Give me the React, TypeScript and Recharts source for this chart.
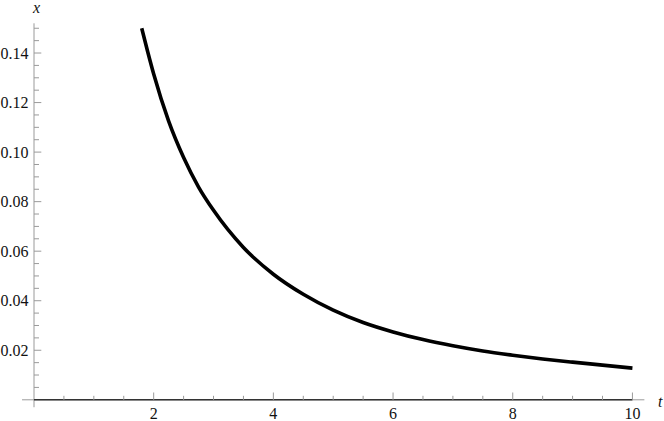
import { LineChart, Line, XAxis, YAxis, ReferenceLine } from 'recharts';

// values
const curveT = [1.8, 1.9, 2, 2.25, 2.5, 2.75, 3, 3.5, 4, 4.5, 5, 5.5, 6, 6.5, 7, 7.5, 8, 8.5, 9, 9.5, 10];
const curveX = [
  0.15, 0.1405, 0.1315, 0.1125, 0.0978, 0.0859, 0.0765, 0.0615, 0.0507, 0.0426, 0.0362, 0.0312, 0.0274,
  0.0243, 0.0218, 0.0197, 0.018, 0.0165, 0.0152, 0.014, 0.0128,
];
const zeroT = [0, 10];
const zeroX = [0, 0];

const xTicks = [0.5, 1, 1.5, 2, 2.5, 3, 3.5, 4, 4.5, 5, 5.5, 6, 6.5, 7, 7.5, 8, 8.5, 9, 9.5, 10];
const xLabels = [2, 4, 6, 8, 10];
const yTicks = [
  0.005, 0.01, 0.015, 0.02, 0.025, 0.03, 0.035, 0.04, 0.045, 0.05, 0.055, 0.06, 0.065, 0.07, 0.075,
  0.08, 0.085, 0.09, 0.095, 0.1, 0.105, 0.11, 0.115, 0.12, 0.125, 0.13, 0.135, 0.14, 0.145, 0.15,
];
const yLabels = [0.02, 0.04, 0.06, 0.08, 0.1, 0.12, 0.14];

const curve = curveT.map((t, i) => ({ t, x: curveX[i] }));
const zero = zeroT.map((t, i) => ({ t, x: zeroX[i] }));

const FONT = '"Liberation Serif"';
const AXIS = '#9a9a9a';

function XTick(props: any) {
  const { x, y, payload } = props;
  const v = payload.value;
  const major = xLabels.some((l) => Math.abs(l - v) < 1e-9);
  return (
    <g>
      <line x1={x} x2={x} y1={y} y2={y - (major ? 7.3 : 4)} stroke={AXIS} strokeWidth={1} />
      {major && (
        <text x={x} y={y + 19.5} textAnchor="middle" fontSize={16} fill="#111">
          {v}
        </text>
      )}
    </g>
  );
}

function YTick(props: any) {
  const { x, y, payload } = props;
  const v = payload.value;
  const major = yLabels.some((l) => Math.abs(l - v) < 1e-9);
  return (
    <g>
      <line x1={x} x2={x + (major ? 7.3 : 5)} y1={y} y2={y} stroke={AXIS} strokeWidth={1} />
      {major && (
        <text x={x - 5.5} y={y + 5.5} textAnchor="end" fontSize={16} fill="#111">
          {v.toFixed(2)}
        </text>
      )}
    </g>
  );
}

const nameStyle = {
  position: 'absolute' as const,
  fontStyle: 'italic',
  fontSize: 16,
  lineHeight: '16px',
  color: '#111',
};

export default function App() {
  return (
    <div style={{ position: 'relative', width: 664, height: 421, background: '#fff' }}>
      <style>{`body{margin:0} .plot text, .plot span{font-family:${FONT} !important}`}</style>
      <div className="plot">
        <LineChart width={664} height={421} margin={{ top: 23.3, right: 19.6, left: 0, bottom: 0.2 }}>
          <XAxis
            dataKey="t"
            type="number"
            domain={[0, 10.2]}
            ticks={xTicks}
            interval={0}
            height={21}
            axisLine={false}
            tickLine={false}
            tickSize={0}
            tickMargin={0}
            tick={<XTick />}
          />
          <YAxis
            type="number"
            domain={[0, 0.152]}
            ticks={yTicks}
            interval={0}
            width={34}
            axisLine={false}
            tickLine={false}
            tickSize={0}
            tickMargin={0}
            tick={<YTick />}
          />
          <ReferenceLine
            segment={[{ x: -0.2, y: 0 }, { x: 10.2, y: 0 }]}
            stroke={AXIS}
            strokeWidth={1}
            ifOverflow="visible"
          />
          <ReferenceLine
            segment={[{ x: 0, y: -0.003 }, { x: 0, y: 0.152 }]}
            stroke={AXIS}
            strokeWidth={1}
            ifOverflow="visible"
          />
          <Line
            data={zero}
            dataKey="x"
            type="linear"
            stroke="#333"
            strokeWidth={1.6}
            dot={false}
            isAnimationActive={false}
          />
          <Line
            data={curve}
            dataKey="x"
            type="monotone"
            stroke="#000"
            strokeWidth={3.6}
            dot={false}
            isAnimationActive={false}
          />
        </LineChart>
        <span style={{ ...nameStyle, left: 33, top: 0 }}>x</span>
        <span style={{ ...nameStyle, left: 658, top: 394 }}>t</span>
      </div>
    </div>
  );
}
